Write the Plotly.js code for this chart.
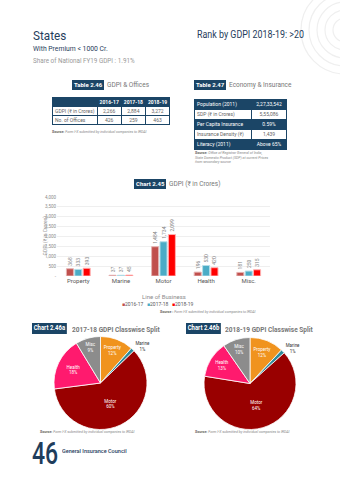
<!DOCTYPE html>
<html>
<head>
<meta charset="utf-8">
<script src="https://cdn.plot.ly/plotly-3.0.1.min.js"></script>
<style>
  html, body { margin:0; padding:0; background:#fff; }
  #page { position:relative; width:340px; height:480px; overflow:hidden; background:#fff;
          font-family: "Roboto", "Liberation Sans", sans-serif; }
  #plot { position:absolute; left:0; top:0; width:340px; height:480px; }
  .t { position:absolute; white-space:nowrap; line-height:1; transform-origin:left top; }
  .navy { color:#1f3d5c; }
  .box { position:absolute; background:#1b4566; color:#fff; font-weight:bold; white-space:nowrap;
         line-height:1; padding:2px 2px; transform-origin:left top; }
  table.tb { position:absolute; border-collapse:collapse; font-size:5px; line-height:1; }
  table.tb td { border:0.6px solid #1b4566; padding:0 2px; height:8px; white-space:nowrap; }
  .dk { background:#1b4566; color:#fff; }
  .lt { background:#fff; color:#666; }
  .src { position:absolute; font-size:3.6px; color:#888; font-style:italic; line-height:1.3; white-space:nowrap; }
  .src b { font-style:normal; color:#666; }
</style>
</head>
<body>
<div id="page">
  <svg style="position:absolute;left:0;top:0" width="340" height="480">
    <g fill="none" stroke="#efefef" stroke-width="1.2">
      <circle cx="345" cy="30" r="12"/>
      <circle cx="345" cy="30" r="20"/>
      <circle cx="345" cy="30" r="28"/>
      <circle cx="345" cy="30" r="36"/>
      <circle cx="345" cy="30" r="44"/>
    </g>
  </svg>
  <div id="plot"></div>

  <div class="t navy" style="left:33px;top:29px;font-size:13px;transform:scaleX(0.9);">States</div>
  <div class="t navy" style="left:197px;top:30px;font-size:10px;transform:scaleX(0.89);">Rank by GDPI 2018-19: &gt;20</div>
  <div class="t navy" style="left:33px;top:45.5px;font-size:6.8px;">With Premium &lt; 1000 Cr.</div>
  <div class="t" style="left:33px;top:57.5px;font-size:6.3px;color:#999;">Share of National FY19 GDPI : 1.91%</div>

  <div class="box" style="left:72px;top:80px;font-size:6px;">Table 2.46</div>
  <div class="t" style="left:107px;top:82px;font-size:6.5px;color:#777;">GDPI &amp; Offices</div>
  <table class="tb" id="tbl1" style="left:52px;top:97px;"></table>
  <div class="src" style="left:52px;top:130px;"><b>Source:</b> Form I-X submitted by individual companies to IRDAI</div>

  <div class="box" style="left:194px;top:80px;font-size:6px;">Table 2.47</div>
  <div class="t" style="left:229px;top:82px;font-size:6.5px;color:#777;">Economy &amp; Insurance</div>
  <table class="tb" id="tbl2" style="left:194px;top:99px;"></table>
  <div class="src" style="left:195px;top:151px;"><b>Source:</b> Office of Registrar General of India,<br>State Domestic Product (SDP) at current Prices<br>from secondary source</div>

  <div class="box" style="left:134px;top:179px;font-size:6px;">Chart 2.45</div>
  <div class="t" style="left:169px;top:181px;font-size:6.5px;color:#777;">GDPI (&#8377; in Crores)</div>

  <div class="src" style="left:160px;top:310px;font-style:normal;"><b style="font-weight:bold">Source :</b> <i>Form I-X submitted by individual companies to IRDAI</i></div>

  <div class="box" style="left:32px;top:323px;font-size:7px;transform:scaleX(0.85);">Chart 2.46a</div>
  <div class="t" style="left:72px;top:326px;font-size:7.5px;color:#777;font-weight:bold;transform:scaleX(0.87);">2017-18 GDPI Classwise Split</div>
  <div class="box" style="left:186px;top:323px;font-size:7px;transform:scaleX(0.85);">Chart 2.46b</div>
  <div class="t" style="left:225px;top:326px;font-size:7.5px;color:#777;font-weight:bold;transform:scaleX(0.87);">2018-19 GDPI Classwise Split</div>

  <div class="src" style="left:40px;top:430px;"><b>Source:</b> Form I-X submitted by individual companies to IRDAI</div>
  <div class="src" style="left:195px;top:430px;"><b>Source:</b> Form I-X submitted by individual companies to IRDAI</div>

  <div class="t navy" style="left:32px;top:441px;font-size:32px;line-height:0.8;font-weight:500;transform:scaleX(0.72);">46</div>
  <div class="t navy" style="left:62px;top:448px;font-size:6px;font-weight:500;transform:scaleX(0.92);">General Insurance Council</div>
</div>

<script>
// ---- Data ----
var years = ["2016-17", "2017-18", "2018-19"];
var lobs = ["Property", "Marine", "Motor", "Health", "Misc."];
var gdpi1617 = [368, 37, 1484, 196, 181];
var gdpi1718 = [333, 37, 1734, 530, 250];
var gdpi1819 = [393, 45, 2099, 420, 315];

var tbl1Rows = ["GDPI (\u20B9 in Crores)", "No. of Offices"];
var tbl1Gdpi = ["2,266", "2,884", "3,272"];
var tbl1Offices = ["426", "259", "463"];

var econLabels = ["Population (2011)", "SDP (\u20B9 in Crores)", "Per Capita Insurance", "Insurance Density (\u20B9)", "Literacy (2011)"];
var econValues = ["2,27,33,542", "5,55,086", "0.59%", "1,439", "Above 65%"];

var pieLabels = ["Property", "Marine", "Motor", "Health", "Misc"];
var pie1718 = gdpi1718;
var pie1819 = gdpi1819;

var yTicks = [0, 500, 1000, 1500, 2000, 2500, 3000, 3500, 4000];
var yTickText = ["-", "500", "1,000", "1,500", "2,000", "2,500", "3,000", "3,500", "4,000"];

// ---- Tables ----
(function(){
  var t1 = document.getElementById('tbl1');
  var h = '<tr><td class="dk" style="width:37px"></td>';
  years.forEach(function(y){ h += '<td class="dk" style="width:18px;text-align:center;font-weight:bold">'+y+'</td>'; });
  h += '</tr>';
  var rows = [tbl1Gdpi, tbl1Offices];
  rows.forEach(function(r, i){
    h += '<tr><td class="lt">'+tbl1Rows[i]+'</td>';
    r.forEach(function(v){ h += '<td class="lt" style="text-align:center">'+v+'</td>'; });
    h += '</tr>';
  });
  t1.innerHTML = h;
  var t2 = document.getElementById('tbl2');
  var g = '';
  econLabels.forEach(function(l, i){
    var c = (i % 2 === 0) ? 'dk' : 'lt';
    g += '<tr><td class="'+c+'" style="width:52px;height:9px">'+l+'</td><td class="'+c+'" style="width:30px;text-align:center;height:9px">'+econValues[i]+'</td></tr>';
  });
  t2.innerHTML = g;
})();

// ---- Plot ----
var W = 340, H = 480;
function px(x){ return x / W; }
function py(y){ return 1 - y / H; }

var barColors = ["#c0504d", "#4bacc6", "#ff0000"];
var barLines = ["#e6b3b2", "#b5dde8", "#ffb0b0"];
var series = [gdpi1617, gdpi1718, gdpi1819];
var traces = series.map(function(s, i){
  return {
    type: 'bar', x: lobs, y: s, name: years[i],
    marker: { color: barColors[i], line: { color: barLines[i], width: 1 } },
    texttemplate: '%{y:,}', textposition: 'outside', textangle: -90,
    textfont: { size: 5, color: '#808080' }, constraintext: 'none', cliponaxis: false,
    xaxis: 'x', yaxis: 'y', showlegend: false, hoverinfo: 'none'
  };
});

var pieColors = ["#f0931e", "#2e8b9a", "#990000", "#ff1a6e", "#8c8c8c"];
function pieTrace(vals, cx, cy, r){
  return {
    type: 'pie', labels: pieLabels, values: vals, sort: false, direction: 'clockwise', rotation: 0,
    marker: { colors: pieColors, line: { color: '#ffffff', width: 0.8 } },
    texttemplate: '%{label}<br>%{percent:.0%}',
    textposition: ['inside', 'outside', 'inside', 'inside', 'inside'],
    insidetextorientation: 'horizontal',
    insidetextfont: { size: 4.5, color: '#ffffff' },
    outsidetextfont: { size: 4.5, color: '#333333' },
    domain: { x: [px(cx - r), px(cx + r)], y: [py(cy + r), py(cy - r)] },
    showlegend: false, hoverinfo: 'none'
  };
}
traces.push(pieTrace(pie1718, 100.5, 383, 46.5));
traces.push(pieTrace(pie1819, 250, 383.5, 46));

var legendText = years.map(function(y, i){
  return '<span style="color:' + barColors[i] + '">\u25A0</span>' + y;
}).join('   ');

var layout = {
  width: W, height: H, margin: { l: 0, r: 0, t: 0, b: 0 },
  paper_bgcolor: 'rgba(0,0,0,0)', plot_bgcolor: 'rgba(0,0,0,0)',
  font: { family: 'Roboto, "Liberation Sans", sans-serif', color: '#595959' },
  barmode: 'group', bargap: 0.41, bargroupgap: 0.16,
  xaxis: { domain: [px(57), px(270)], anchor: 'y', showgrid: false, showline: false, zeroline: false,
           ticks: '', tickfont: { size: 6, color: '#595959' }, fixedrange: true },
  yaxis: { domain: [py(276), py(197)], anchor: 'x', range: [0, 4000], tickvals: yTicks, ticktext: yTickText,
           showgrid: true, gridcolor: '#ebebeb', gridwidth: 0.8, zeroline: false, showline: false, ticks: '',
           tickfont: { size: 4.5, color: '#8c8c8c' }, fixedrange: true },
  annotations: [
    { text: 'GDPI (\u20B9 in Crores)', xref: 'paper', yref: 'paper', x: px(39), y: py(236), textangle: -90,
      showarrow: false, font: { size: 5, color: '#8c8c8c' } },
    { text: 'Line of Business', xref: 'paper', yref: 'paper', x: px(164), y: py(296),
      showarrow: false, font: { size: 6, color: '#8c8c8c' } },
    { text: legendText, xref: 'paper', yref: 'paper', x: px(157), y: py(304),
      showarrow: false, font: { size: 5, color: '#595959' } }
  ]
};

Plotly.newPlot('plot', traces, layout, { staticPlot: true, displayModeBar: false });
</script>
</body>
</html>
